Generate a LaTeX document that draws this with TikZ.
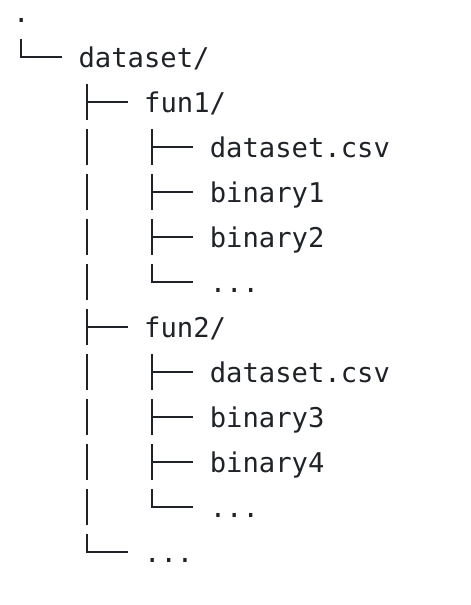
\documentclass[tikz,border=0pt]{standalone}
\usepackage{fontspec}
\setmonofont{DejaVu Sans Mono}
\usepackage{xcolor}
\definecolor{inkcolor}{RGB}{31,35,40}

\begin{document}
\begin{tikzpicture}[
  x=1pt, y=-1pt,
  entry/.style={anchor=base west, inner sep=0pt, text=inkcolor,
                font=\ttfamily\fontsize{27.2pt}{32pt}\selectfont},
  tree/.style={draw=inkcolor, line width=2pt},
]
\useasboundingbox (0,0) rectangle (471,605);

% ---------- entries ----------
\node[entry] (root)   at (12.8, 22)  {.};
\node[entry] (ds)     at (78.4, 67)  {dataset/};
\node[entry] (fa)     at (144.0,112) {fun1/};
\node[entry] (facsv)  at (209.6,157) {dataset.csv};
\node[entry] (fabina) at (209.6,202) {binary1};
\node[entry] (fabinb) at (209.6,247) {binary2};
\node[entry] (famore) at (209.6,292) {...};
\node[entry] (fb)     at (144.0,337) {fun2/};
\node[entry] (fbcsv)  at (209.6,382) {dataset.csv};
\node[entry] (fbbina) at (209.6,427) {binary3};
\node[entry] (fbbinb) at (209.6,472) {binary4};
\node[entry] (fbmore) at (209.6,517) {...};
\node[entry] (dsmore) at (144.0,562) {...};

% ---------- last children (corner) ----------
\draw[tree] ([shift={(-57.4pt,28pt)}]ds.base west)     |- ([shift={(-16.4pt,10pt)}]ds.base west);
\draw[tree] ([shift={(-57.4pt,28pt)}]famore.base west) |- ([shift={(-16.4pt,10pt)}]famore.base west);
\draw[tree] ([shift={(-57.4pt,28pt)}]fbmore.base west) |- ([shift={(-16.4pt,10pt)}]fbmore.base west);
\draw[tree] ([shift={(-57.4pt,28pt)}]dsmore.base west) |- ([shift={(-16.4pt,10pt)}]dsmore.base west);

% ---------- other children (tee) ----------
\draw[tree] ([shift={(-57.4pt,28pt)}]fa.base west)     -- +(0pt,-36pt) ([shift={(-57.4pt,10pt)}]fa.base west)     -- +(41pt,0pt);
\draw[tree] ([shift={(-57.4pt,28pt)}]facsv.base west)  -- +(0pt,-36pt) ([shift={(-57.4pt,10pt)}]facsv.base west)  -- +(41pt,0pt);
\draw[tree] ([shift={(-57.4pt,28pt)}]fabina.base west) -- +(0pt,-36pt) ([shift={(-57.4pt,10pt)}]fabina.base west) -- +(41pt,0pt);
\draw[tree] ([shift={(-57.4pt,28pt)}]fabinb.base west) -- +(0pt,-36pt) ([shift={(-57.4pt,10pt)}]fabinb.base west) -- +(41pt,0pt);
\draw[tree] ([shift={(-57.4pt,28pt)}]fb.base west)     -- +(0pt,-36pt) ([shift={(-57.4pt,10pt)}]fb.base west)     -- +(41pt,0pt);
\draw[tree] ([shift={(-57.4pt,28pt)}]fbcsv.base west)  -- +(0pt,-36pt) ([shift={(-57.4pt,10pt)}]fbcsv.base west)  -- +(41pt,0pt);
\draw[tree] ([shift={(-57.4pt,28pt)}]fbbina.base west) -- +(0pt,-36pt) ([shift={(-57.4pt,10pt)}]fbbina.base west) -- +(41pt,0pt);
\draw[tree] ([shift={(-57.4pt,28pt)}]fbbinb.base west) -- +(0pt,-36pt) ([shift={(-57.4pt,10pt)}]fbbinb.base west) -- +(41pt,0pt);

% ---------- pass-through bars under dataset/ ----------
\draw[tree] ([shift={(-123pt,28pt)}]facsv.base west)  -- +(0pt,-36pt);
\draw[tree] ([shift={(-123pt,28pt)}]fabina.base west) -- +(0pt,-36pt);
\draw[tree] ([shift={(-123pt,28pt)}]fabinb.base west) -- +(0pt,-36pt);
\draw[tree] ([shift={(-123pt,28pt)}]famore.base west) -- +(0pt,-36pt);
\draw[tree] ([shift={(-123pt,28pt)}]fbcsv.base west)  -- +(0pt,-36pt);
\draw[tree] ([shift={(-123pt,28pt)}]fbbina.base west) -- +(0pt,-36pt);
\draw[tree] ([shift={(-123pt,28pt)}]fbbinb.base west) -- +(0pt,-36pt);
\draw[tree] ([shift={(-123pt,28pt)}]fbmore.base west) -- +(0pt,-36pt);

\end{tikzpicture}
\end{document}
